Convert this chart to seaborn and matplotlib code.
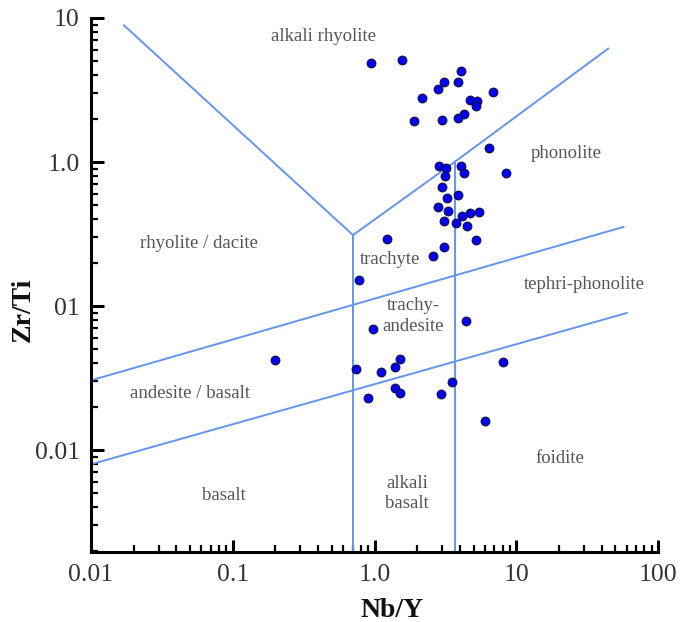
import matplotlib
matplotlib.use("Agg")
import matplotlib.pyplot as plt
import seaborn as sns
import pandas as pd
from matplotlib.ticker import FixedLocator, FixedFormatter, LogLocator, NullFormatter

# ---- sample data (Nb/Y vs Zr/Ti) ----
nb_y = [0.949, 1.57, 4.09, 3.09, 3.86, 2.81, 6.82, 2.15, 4.72, 5.28, 5.20, 4.28,
        3.88, 2.98, 1.90,
        6.43, 8.47, 2.84, 3.21, 4.08, 4.26, 3.13, 3.01, 3.88, 3.26, 2.82, 3.28,
        5.46, 4.69, 4.14, 3.09, 3.76, 4.49, 1.22, 5.20, 3.08, 2.60,
        0.782, 0.982, 4.41, 0.1995, 0.741, 1.11, 1.39, 1.52, 0.903, 1.39, 1.51,
        2.96, 3.52, 8.11, 5.99]
zr_ti = [4.84, 5.13, 4.31, 3.59, 3.57, 3.23, 3.05, 2.80, 2.70, 2.65, 2.46, 2.17,
         2.01, 1.97, 1.93,
         1.26, 0.843, 0.933, 0.904, 0.942, 0.843, 0.803, 0.674, 0.593, 0.565, 0.487, 0.459,
         0.450, 0.440, 0.420, 0.391, 0.375, 0.360, 0.292, 0.286, 0.257, 0.221,
         0.152, 0.0689, 0.0787, 0.0422, 0.0365, 0.0348, 0.0377, 0.0428, 0.0231, 0.0270, 0.0249,
         0.0245, 0.0298, 0.0407, 0.0159]

# ---- field boundaries ----
left_diag_x = [0.0169, 0.705]
left_diag_y = [8.98, 0.311]
right_diag_x = [0.705, 3.67, 45.1]
right_diag_y = [0.311, 1.0, 6.19]
vert1_x = [0.705, 0.705]
vert1_y = [0.311, 0.002]
vert2_x = [3.67, 3.67]
vert2_y = [1.0, 0.002]
upper_x = [0.01, 58.0]
upper_y = [0.0305, 0.356]
lower_x = [0.01, 61.2]
lower_y = [0.00797, 0.0899]

# ---- field names ----
field_names = ["alkali rhyolite", "phonolite", "rhyolite / dacite", "trachyte",
               "tephri-phonolite", "trachy-\nandesite", "andesite / basalt",
               "foidite", "basalt", "alkali\nbasalt"]
field_x = [0.44, 22.4, 0.058, 1.29, 30.0, 1.87, 0.0499, 20.4, 0.0867, 1.70]
field_y = [7.4, 1.15, 0.274, 0.212, 0.142, 0.0853, 0.0249, 0.0088, 0.00487, 0.00502]

# ---- tick labels ----
x_ticks = [0.01, 0.1, 1.0, 10, 100]
x_tick_labels = ["0.01", "0.1", "1.0", "10", "100"]
y_ticks = [0.01, 0.1, 1.0, 10]
y_tick_labels = ["0.01", "01", "1.0", "10"]

sns.set_theme(style="white")
plt.rcParams['font.family'] = ['Liberation Serif', 'DejaVu Serif']

fig = plt.figure(figsize=(6.94, 6.22), dpi=100)
ax = fig.add_axes([91/694, 1-551.7/622, (658-91)/694, (551.7-18)/622])
ax.set_xscale('log')
ax.set_yscale('log')

line_kw = dict(color='#6495ED', lw=1.4, zorder=1, solid_capstyle='butt')
for xs, ys in [(left_diag_x, left_diag_y), (right_diag_x, right_diag_y),
               (vert1_x, vert1_y), (vert2_x, vert2_y),
               (upper_x, upper_y), (lower_x, lower_y)]:
    ax.plot(xs, ys, **line_kw)

df = pd.DataFrame({"Nb/Y": nb_y, "Zr/Ti": zr_ti})
sns.scatterplot(data=df, x="Nb/Y", y="Zr/Ti", ax=ax, color='#0000EE',
                edgecolor='#111111', linewidth=0.6, s=42, zorder=3, legend=False)

for name, fx, fy in zip(field_names, field_x, field_y):
    ax.text(fx, fy, name, ha='center', va='center', fontsize=13.5,
            color='#555555', linespacing=1.25, zorder=2)

ax.set_xlim(0.01, 100)
ax.set_ylim(0.00197, 10)

for s in ['top', 'right']:
    ax.spines[s].set_visible(False)
for s in ['left', 'bottom']:
    ax.spines[s].set_linewidth(2.2)
    ax.spines[s].set_color('black')

ax.xaxis.set_major_locator(FixedLocator(x_ticks))
ax.xaxis.set_major_formatter(FixedFormatter(x_tick_labels))
ax.yaxis.set_major_locator(FixedLocator(y_ticks))
ax.yaxis.set_major_formatter(FixedFormatter(y_tick_labels))
ax.xaxis.set_minor_locator(LogLocator(base=10, subs=range(2, 10), numticks=20))
ax.yaxis.set_minor_locator(LogLocator(base=10, subs=range(2, 10), numticks=20))
ax.xaxis.set_minor_formatter(NullFormatter())
ax.yaxis.set_minor_formatter(NullFormatter())

ax.tick_params(which='major', direction='in', length=9, width=2.2, color='black',
               labelsize=18.5, labelcolor='#333333')
ax.tick_params(axis='x', which='major', pad=9)
ax.tick_params(axis='y', which='major', pad=8)
ax.tick_params(which='minor', direction='in', length=5, width=1.6, color='black')
ax.tick_params(left=True, bottom=True, which='both')

ax.set_xlabel("Nb/Y", fontsize=20, fontweight='bold', color='#111111')
ax.set_ylabel("Zr/Ti", fontsize=20, fontweight='bold', color='#111111')
ax.xaxis.set_label_coords(0.531, -0.087)
ax.yaxis.set_label_coords(-0.097, 0.453)

fig.savefig("out.png", dpi=100)
